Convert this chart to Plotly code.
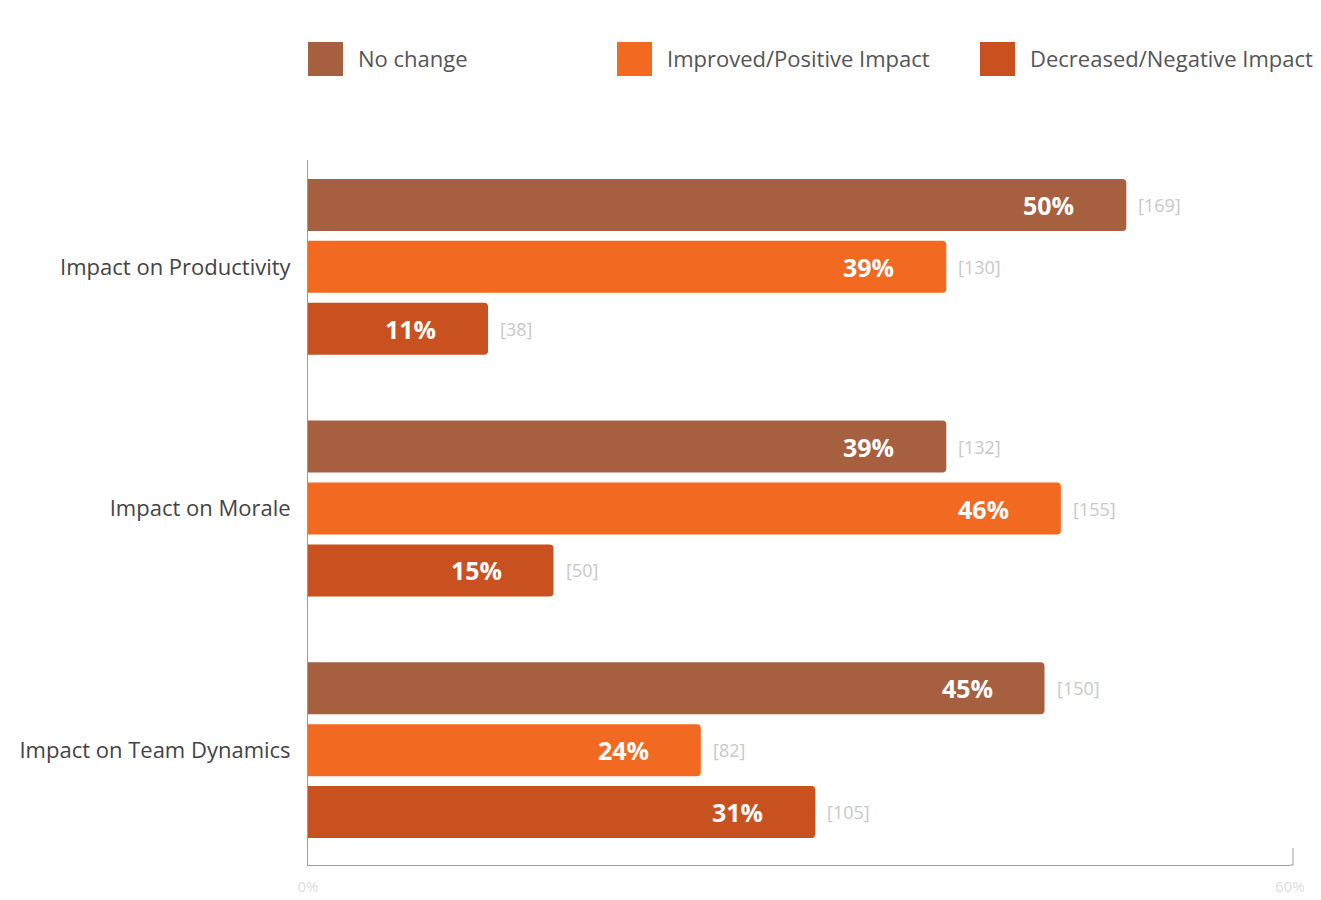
import plotly.graph_objects as go

categories = ["Impact on Productivity", "Impact on Morale", "Impact on Team Dynamics"]
series_names = ["No change", "Improved/Positive Impact", "Decreased/Negative Impact"]
pct_no_change = [50, 39, 45]
pct_improved = [39, 46, 24]
pct_decreased = [11, 15, 31]
cnt_no_change = [169, 132, 150]
cnt_improved = [130, 155, 82]
cnt_decreased = [38, 50, 105]
x_tick_labels = ["0%", "60%"]

colors = ["#A6603F", "#F26A22", "#C8511F"]
series_pct = [pct_no_change, pct_improved, pct_decreased]
series_cnt = [cnt_no_change, cnt_improved, cnt_decreased]

GROUP_STEP = 242 / 62.0
ypos = lambda i, j: i * GROUP_STEP + j

fig = go.Figure()
annotations = []
for j, (name, vals, cnts, col) in enumerate(zip(series_names, series_pct, series_cnt, colors)):
    ys = [ypos(i, j) for i in range(len(categories))]
    fig.add_trace(go.Bar(
        x=vals, y=ys, orientation="h", name=name,
        marker=dict(color=col, line=dict(width=0), cornerradius=4),
        width=0.84, showlegend=False, hoverinfo="skip",
    ))
    for v, c, y in zip(vals, cnts, ys):
        annotations.append(dict(x=v, y=y, xref="x", yref="y", text=f"<b>{v}%</b>",
                                xanchor="right", yanchor="middle", xshift=-50, showarrow=False,
                                font=dict(family="Open Sans", size=25, color="white")))
        annotations.append(dict(x=v, y=y, xref="x", yref="y", text=f"[{c}]",
                                xanchor="left", yanchor="middle", xshift=10, showarrow=False,
                                font=dict(family="Open Sans", size=18, color="#C8C8C8")))

# manual legend
W, H = 1321, 900
L, R, T, B = 308, 31, 160, 35
pw, ph = W - L - R, H - T - B
def px_x(px):
    return (px - L) / pw
def px_y(py):
    return (H - B - py) / ph

shapes = []
leg_x = [308, 617, 980]
for name, col, lx in zip(series_names, colors, leg_x):
    shapes.append(dict(type="rect", xref="paper", yref="paper",
                       x0=px_x(lx), x1=px_x(lx + 35), y0=px_y(76), y1=px_y(42),
                       fillcolor=col, line=dict(width=0)))
    annotations.append(dict(xref="paper", yref="paper", x=px_x(lx + 48), y=px_y(58),
                            text=name, xanchor="left", yanchor="middle", showarrow=False,
                            font=dict(family="Open Sans", size=22, color="#555555")))

# end tick of the x axis
shapes.append(dict(type="line", xref="paper", yref="paper", x0=px_x(1293), x1=px_x(1293),
                   y0=0, y1=px_y(848), line=dict(color="#9A9A9A", width=1)))
shapes.append(dict(type="line", xref="paper", yref="paper", x0=1, x1=px_x(1293),
                   y0=0, y1=0, line=dict(color="#9A9A9A", width=1)))

centers = [ypos(i, 1) for i in range(len(categories))]
last = ypos(len(categories) - 1, 2)

fig.update_layout(
    width=W, height=H,
    margin=dict(l=L, r=R, t=T, b=B, autoexpand=False),
    paper_bgcolor="white", plot_bgcolor="white",
    barmode="overlay",
    shapes=shapes,
    annotations=annotations,
    xaxis=dict(range=[0, 60], tickvals=[0, 60], ticktext=x_tick_labels, automargin=False,
               showgrid=False, zeroline=False, showline=True, linecolor="#9A9A9A", linewidth=1,
               ticks="", ticklabelstandoff=8,
               tickfont=dict(family="Open Sans", size=15, color="#DDDDDD")),
    yaxis=dict(range=[last + 53 / 62.0, -45 / 62.0], tickvals=centers, ticktext=categories,
               automargin=False,
               showgrid=False, zeroline=False, showline=True, linecolor="#9A9A9A", linewidth=1,
               ticks="", ticklabelstandoff=12,
               tickfont=dict(family="Open Sans", size=22, color="#444444")),
    showlegend=False,
)

fig.write_html("out.html")
